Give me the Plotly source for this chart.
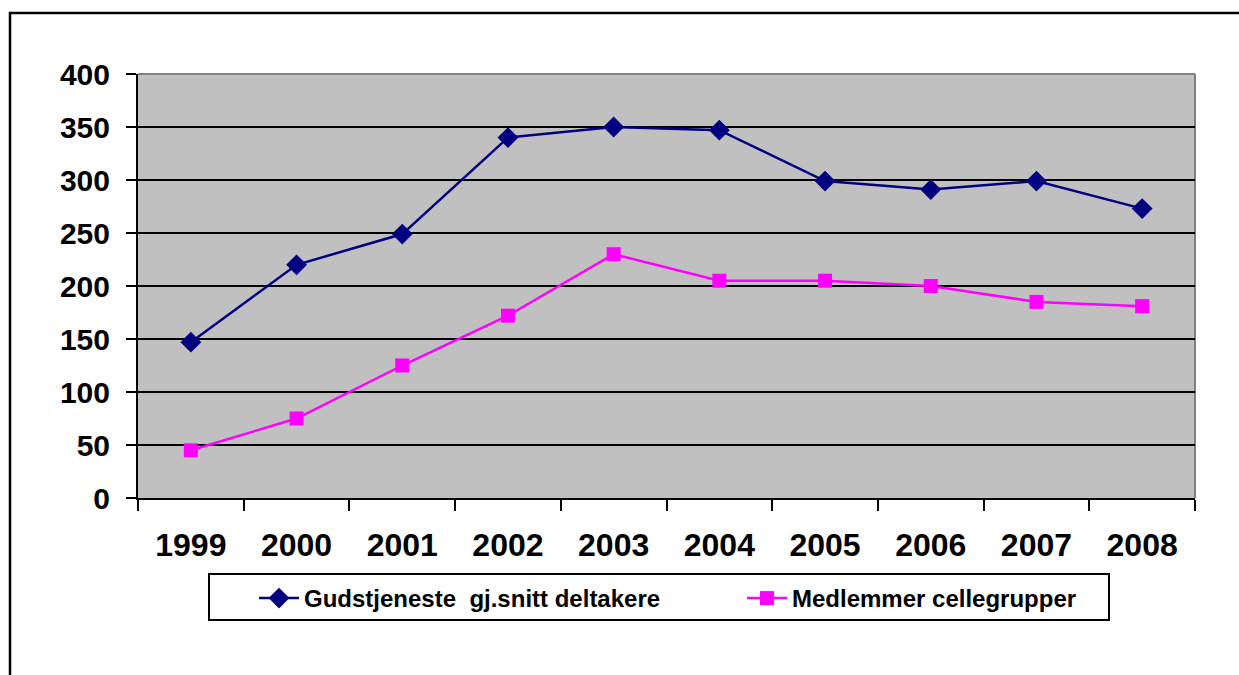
import plotly.graph_objects as go

years = ["1999", "2000", "2001", "2002", "2003", "2004", "2005", "2006", "2007", "2008"]
gudstjeneste = [147, 220, 249, 340, 350, 347, 299, 291, 299, 273]
medlemmer = [45, 75, 125, 172, 230, 205, 205, 200, 185, 181]
y_ticks = [0, 50, 100, 150, 200, 250, 300, 350, 400]

W, H = 1239, 675
L, R, T, B = 138, 1195, 74, 498
pw, ph = R - L, B - T

def px(x):
    return (x - L) / pw

def py(y):
    return (B - y) / ph

fig = go.Figure()
fig.add_trace(go.Scatter(
    x=years, y=gudstjeneste, mode="lines+markers",
    name="Gudstjeneste  gj.snitt deltakere",
    line=dict(color="#000080", width=2.5),
    marker=dict(symbol="diamond", size=16, color="#000080"),
    legendwidth=388,
))
fig.add_trace(go.Scatter(
    x=years, y=medlemmer, mode="lines+markers",
    name="Medlemmer cellegrupper",
    line=dict(color="#FF00FF", width=2.5),
    marker=dict(symbol="square", size=14, color="#FF00FF"),
))

shapes = [
    # outer frame
    dict(type="rect", xref="paper", yref="paper",
         x0=px(10), x1=px(1260), y0=py(13), y1=py(700),
         line=dict(color="black", width=2.5), fillcolor="rgba(0,0,0,0)", layer="below"),
    # plot area top/right border (grey)
    dict(type="line", xref="paper", yref="paper", x0=0, x1=1, y0=1, y1=1,
         line=dict(color="#808080", width=2), layer="below"),
    dict(type="line", xref="paper", yref="paper", x0=1, x1=1, y0=0, y1=1,
         line=dict(color="#808080", width=2), layer="below"),
    # legend box
    dict(type="rect", xref="paper", yref="paper",
         x0=px(209), x1=px(1109), y0=py(574), y1=py(620),
         line=dict(color="black", width=2), fillcolor="rgba(0,0,0,0)"),
]

fig.update_layout(
    width=W, height=H,
    margin=dict(l=L, r=W - R, t=T, b=H - B),
    paper_bgcolor="white",
    plot_bgcolor="#C0C0C0",
    font=dict(family="Liberation Sans, Arial, sans-serif", color="black"),
    showlegend=True,
    legend=dict(
        orientation="h",
        x=px(209), y=py(576), xanchor="left", yanchor="top",
        bgcolor="rgba(0,0,0,0)", borderwidth=0,
        font=dict(size=24, family="Liberation Sans, Arial, sans-serif", color="black", weight="bold"),
        indentation=45,
        itemwidth=40,
    ),
    shapes=shapes,
)

fig.update_xaxes(
    type="category", range=[-0.5, 9.5],
    tickson="boundaries", ticks="outside", ticklen=11, tickwidth=2, tickcolor="black",
    showline=True, linecolor="black", linewidth=2,
    showgrid=False, zeroline=False,
    tickfont=dict(size=32, weight="bold"),
    ticklabelstandoff=18,
)
fig.update_yaxes(
    range=[0, 400], tickvals=y_ticks,
    ticks="outside", ticklen=10, tickwidth=2, tickcolor="black",
    showline=True, linecolor="black", linewidth=2,
    showgrid=True, gridcolor="black", gridwidth=2,
    zeroline=False,
    tickfont=dict(size=30, weight="bold"),
    ticklabelstandoff=10,
)

fig.write_html("out.html", config={"displayModeBar": False},
               post_script="document.body.style.margin='0px';")
